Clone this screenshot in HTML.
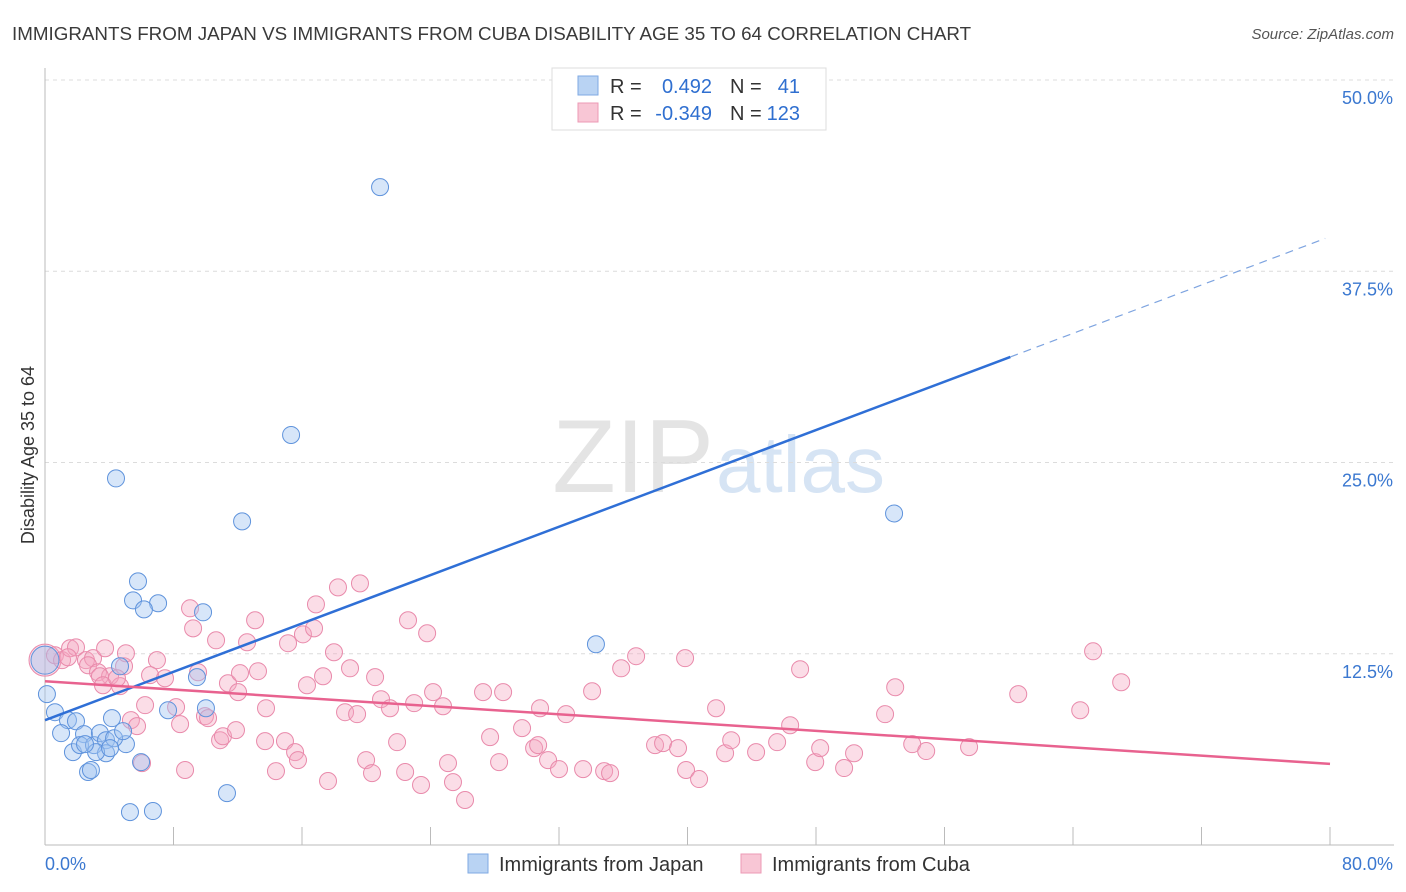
<!DOCTYPE html>
<html><head><meta charset="utf-8">
<style>
body{margin:0;background:#fff;font-family:"Liberation Sans",sans-serif;}
#wrap{position:relative;width:1406px;height:892px;overflow:hidden;}
svg text{font-family:"Liberation Sans",sans-serif;}
</style></head>
<body>
<div id="wrap">
<svg id="svg" width="1406" height="892">
  <text x="12" y="40" font-size="18.8" fill="#3a3a3a">IMMIGRANTS FROM JAPAN VS IMMIGRANTS FROM CUBA DISABILITY AGE 35 TO 64 CORRELATION CHART</text>
  <text x="1394" y="39" font-size="15" fill="#555" font-style="italic" text-anchor="end">Source: ZipAtlas.com</text>
  <text x="714" y="492" font-size="104" fill="#e4e4e4" text-anchor="end" font-family="Liberation Serif">ZIP</text>
  <text x="716" y="492" font-size="80" fill="#d6e4f4">atlas</text>
  <text transform="translate(34,455) rotate(-90)" font-size="18" fill="#333" text-anchor="middle">Disability Age 35 to 64</text>
  <g id="grid"></g><g id="axes"></g><g id="pts"></g><g id="lines"></g>
  <g>
    <rect x="552" y="68" width="274" height="62" fill="#fff" stroke="#ddd"/>
    <rect x="578" y="76" width="20" height="19" fill="#b9d3f3" stroke="#7fa9e3"/>
    <rect x="578" y="103" width="20" height="19" fill="#f8c6d5" stroke="#ec9ab5"/>
    <text x="610" y="93" font-size="20" fill="#333">R = </text><text x="712" y="93" font-size="20" fill="#2f6fd0" text-anchor="end">0.492</text>
    <text x="730" y="93" font-size="20" fill="#333">N = </text><text x="800" y="93" font-size="20" fill="#2f6fd0" text-anchor="end">41</text>
    <text x="610" y="120" font-size="20" fill="#333">R = </text><text x="712" y="120" font-size="20" fill="#2f6fd0" text-anchor="end">-0.349</text>
    <text x="730" y="120" font-size="20" fill="#333">N = </text><text x="800" y="120" font-size="20" fill="#2f6fd0" text-anchor="end">123</text>
  </g>
  <g>
    <rect x="468" y="854" width="20" height="19" fill="#b9d3f3" stroke="#7fa9e3"/>
    <text x="499" y="871" font-size="20" fill="#333">Immigrants from Japan</text>
    <rect x="741" y="854" width="20" height="19" fill="#f8c6d5" stroke="#ec9ab5"/>
    <text x="772" y="871" font-size="20" fill="#333">Immigrants from Cuba</text>
  </g>
</svg>
</div>
<script>
const yTicks=[12.5,25,37.5,50];
const yTickLabels=["12.5%","25.0%","37.5%","50.0%"];
const xTicks=[0,8,16,24,32,40,48,56,64,72,80];
const xEndLabels=["0.0%","80.0%"];
const japanX=[20.86,15.32,4.42,12.27,52.86,5.79,5.48,7.04,6.16,9.84,34.3,4.67,9.46,10.02,7.66,0.62,1.43,1.0,1.93,2.43,1.74,2.18,3.05,4.17,3.42,3.8,5.04,4.3,4.86,3.8,3.18,5.98,2.68,2.86,11.33,5.29,6.72,0.12,0.0,4.05,2.49];
const japanY=[43.0,26.8,23.96,21.15,21.67,17.23,15.99,15.8,15.4,15.21,13.12,11.68,10.97,8.94,8.81,8.68,8.16,7.31,8.09,7.25,6.07,6.53,6.53,8.29,7.31,6.85,6.59,6.98,7.44,6.0,6.07,5.42,4.77,4.9,3.39,2.15,2.22,9.86,12.08,6.33,6.59];
const cubaX=[0,0.62,1.06,1.56,1.93,1.43,2.55,2.99,2.68,3.3,3.74,4.05,4.67,4.92,5.04,3.42,5.35,5.73,6.04,6.23,6.97,6.54,7.47,8.16,8.41,8.72,9.03,9.22,9.53,9.96,10.15,10.65,10.9,11.08,11.39,11.89,12.02,12.58,13.08,13.26,12.14,13.76,13.7,14.38,14.94,15.13,15.57,15.75,16.06,16.31,16.87,16.75,17.31,17.62,17.99,18.24,18.68,18.99,19.43,19.61,19.99,20.36,20.55,20.92,21.48,21.92,22.42,22.6,22.98,23.41,23.79,24.16,24.78,25.09,25.4,26.15,27.27,27.71,28.27,28.52,29.7,30.45,30.82,30.7,31.32,32.0,32.44,33.5,34.06,34.81,35.18,35.87,36.8,37.98,38.48,39.41,39.85,39.91,40.72,41.78,42.34,42.72,44.27,45.58,46.39,47.01,47.95,48.26,49.75,50.37,52.3,52.93,53.99,54.86,57.53,60.59,64.45,65.25,67.0,3.61,4.48];
const cubaY=[12.08,12.4,12.08,12.86,12.92,12.27,12.08,12.21,11.75,11.29,12.86,11.03,10.38,11.68,12.53,11.03,8.16,7.77,5.35,9.14,12.08,11.1,10.9,9.01,7.9,4.9,15.47,14.16,11.29,8.42,8.29,13.38,6.85,7.11,10.57,7.51,9.99,13.25,14.69,11.36,11.23,8.94,6.79,4.83,6.79,13.19,6.07,5.55,13.77,10.44,15.73,14.16,11.03,4.18,12.6,16.84,8.68,11.55,8.55,17.1,5.55,4.7,10.97,9.53,8.94,6.72,4.77,14.69,9.27,3.92,13.84,9.99,9.07,5.35,4.11,2.94,9.99,7.05,5.42,9.99,7.64,6.33,8.94,6.53,5.55,4.96,8.55,4.96,10.05,4.83,4.7,11.55,12.34,6.53,6.66,6.33,12.21,4.9,4.31,8.94,6.0,6.85,6.07,6.72,7.83,11.49,5.42,6.33,5.03,6.0,8.55,10.31,6.59,6.14,6.4,9.86,8.81,12.66,10.64,10.44,10.9];
const japanTrend=[8.16,0.395];
const cubaTrend=[10.7,-0.0675];

const X0=45,X1=1330,Y0=845,Y50=80;
const sx=v=>X0+(X1-X0)*v/80;
const sy=v=>Y0-(Y0-Y50)*v/50;
const NS="http://www.w3.org/2000/svg";
function mk(tag,attrs,parent){const e=document.createElementNS(NS,tag);for(const k in attrs)e.setAttribute(k,attrs[k]);document.getElementById(parent).appendChild(e);return e;}

yTicks.forEach((t,i)=>{
  const l=mk('line',{x1:X0,x2:1394,y1:sy(t),y2:sy(t),stroke:'#dcdcdc','stroke-dasharray':'4,4'},'grid');
  
  
  const tx=mk('text',{x:1393,y:sy(t)+24,'font-size':18,fill:'#3b78d0','text-anchor':'end'},'grid');
  tx.textContent=yTickLabels[i];
  
  
});
const ya=mk('line',{x1:X0,x2:X0,y1:68,y2:Y0,stroke:'#bbb'},'axes');


const xa=mk('line',{x1:X0,x2:1394,y1:Y0,y2:Y0,stroke:'#bbb'},'axes');


xTicks.forEach(t=>{
  const l=mk('line',{x1:sx(t),x2:sx(t),y1:Y0,y2:Y0-18,stroke:'#bbb'},'axes');
  
  
});
const xl0=mk('text',{x:45,y:870,'font-size':18,fill:'#3b78d0'},'axes');
xl0.textContent=xEndLabels[0];


const xl1=mk('text',{x:1393,y:870,'font-size':18,fill:'#3b78d0','text-anchor':'end'},'axes');
xl1.textContent=xEndLabels[1];



cubaX.forEach((v,i)=>{
  const c=mk('circle',{cx:sx(v),cy:sy(cubaY[i]),r:i===0?16:8.5,fill:'rgba(244,166,192,0.38)',stroke:'#e98aab','stroke-width':1},'pts');
  
  
});
japanX.forEach((v,i)=>{
  const c=mk('circle',{cx:sx(v),cy:sy(japanY[i]),r:i===38?14:8.5,fill:'rgba(160,196,240,0.42)',stroke:'#5f93dc','stroke-width':1},'pts');
  
  
});
const jf=x=>japanTrend[0]+japanTrend[1]*x;
const cf=x=>cubaTrend[0]+cubaTrend[1]*x;
const l1=mk('line',{x1:sx(0),y1:sy(jf(0)),x2:sx(60.1),y2:sy(jf(60.1)),stroke:'#2f6fd6','stroke-width':2.5},'lines');


const l2=mk('line',{x1:sx(60.1),y1:sy(jf(60.1)),x2:sx(79.7),y2:sy(jf(79.7)),stroke:'#7ea4e0','stroke-width':1.2,'stroke-dasharray':'8,6'},'lines');


const l3=mk('line',{x1:sx(0),y1:sy(cf(0)),x2:sx(80),y2:sy(cf(80)),stroke:'#e8628f','stroke-width':2.5},'lines');


</script>
</body></html>
